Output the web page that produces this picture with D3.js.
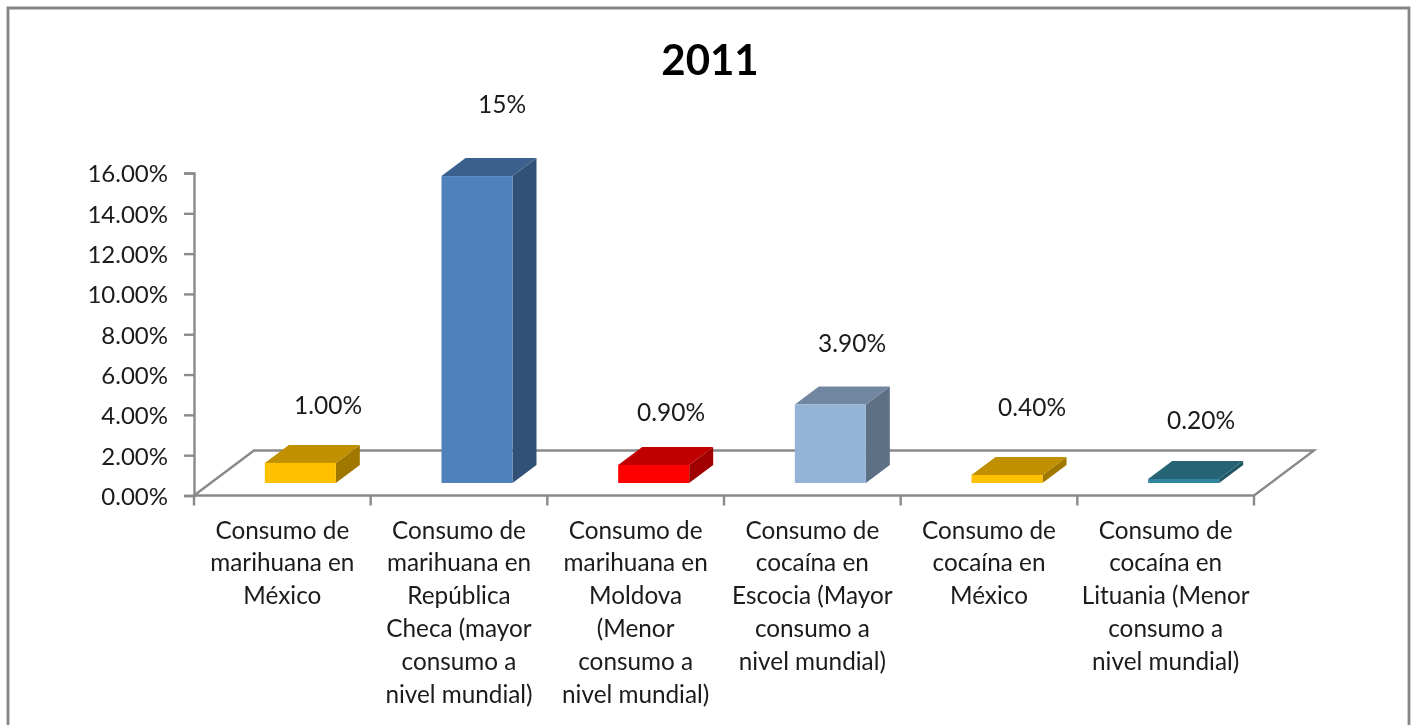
<!DOCTYPE html>
<html><head><meta charset="utf-8">
<script src="https://cdn.jsdelivr.net/npm/d3@7"></script>
<style>html,body{margin:0;padding:0;background:#fff}svg{display:block}text{font-family:Lato,"Open Sans",sans-serif}</style>
</head><body><div id="c"></div>
<script>
const chartTitle = "2011";
const categories = [
  ["Consumo de","marihuana en","México"],
  ["Consumo de","marihuana en","República","Checa (mayor","consumo a","nivel mundial)"],
  ["Consumo de","marihuana en","Moldova","(Menor","consumo a","nivel mundial)"],
  ["Consumo de","cocaína en","Escocia (Mayor","consumo a","nivel mundial)"],
  ["Consumo de","cocaína en","México"],
  ["Consumo de","cocaína en","Lituania (Menor","consumo a","nivel mundial)"]
];
const values = [1.0, 15.25, 0.9, 3.9, 0.4, 0.2];
const valueLabels = ["1.00%","15%","0.90%","3.90%","0.40%","0.20%"];
const frontColors = ["#ffc000","#4f81bd","#ff0000","#95b3d7","#ffc000","#31859c"];
const topColors = ["#c09000","#3b618e","#c00000","#7086a1","#c09000","#256475"];
const sideColors = ["#a07800","#305176","#a00000","#5d7086","#a07800","#1f5462"];
const yTicks = [0,2,4,6,8,10,12,14,16];

const W=1416,H=725;
const svg=d3.select("#c").append("svg").attr("width",W).attr("height",H);
const blur=svg.append("defs").append("filter").attr("id","soft")
  .attr("filterUnits","userSpaceOnUse").attr("x",0).attr("y",0).attr("width",W).attr("height",H);
blur.append("feGaussianBlur").attr("stdDeviation",0.55);
const root=svg.append("g").attr("filter","url(#soft)");

// outer frame, open at the bottom
root.append("path").attr("d",`M8,${H+5}V8H1409V${H+5}`).attr("fill","none").attr("stroke","#858585").attr("stroke-width",2.8);

const x0=194,x1=1254,y0=495.5,y16=173;
const depthX=60,depthY=-45;
const x=d3.scaleBand().domain(d3.range(categories.length)).range([x0,x1]);
const y=d3.scaleLinear().domain([0,16]).range([y0,y16]);
const barW=71, barDX=24, barDY=-18, frontOffset=18;
const base=483;
const hScale=d3.scaleLinear().domain([0,16]).range([0,322]);

const axisColor="#8a8a8a";
// floor
root.append("path").attr("d",`M${x0},${y0}L${x0+depthX},${y0+depthY}H${x1+depthX}L${x1},${y0}`)
  .attr("fill","none").attr("stroke",axisColor).attr("stroke-width",2.4);

// y axis
const yAxis=d3.axisLeft(y).tickValues(yTicks).tickSize(10).tickPadding(16).tickFormat(d=>d.toFixed(2)+"%");
const gy=root.append("g").attr("transform",`translate(${x0},0)`).call(yAxis);
gy.selectAll("line,path").attr("stroke",axisColor).attr("stroke-width",2.4);
gy.selectAll("text").attr("font-size",24).attr("fill","#1a1a1a").attr("dy","0.37em");

// x axis
const gx=root.append("g").attr("transform",`translate(0,${y0})`);
gx.append("line").attr("x1",x0-1).attr("x2",x1+1).attr("stroke",axisColor).attr("stroke-width",2.4);
gx.selectAll("line.t").data(d3.range(categories.length+1)).join("line").attr("class","t")
  .attr("x1",i=>x0+i*x.step()).attr("x2",i=>x0+i*x.step()).attr("y2",10)
  .attr("stroke",axisColor).attr("stroke-width",2.4);

// bars
const bars=root.append("g").selectAll("g").data(values).join("g")
  .attr("transform",(d,i)=>`translate(${x(i)+x.bandwidth()/2+frontOffset-barW/2},${base})`);
bars.append("path").attr("fill",(d,i)=>sideColors[i])
  .attr("d",d=>{const h=hScale(d);return `M${barW},0V${-h}l${barDX},${barDY}V${barDY}Z`;});
bars.append("path").attr("fill",(d,i)=>topColors[i])
  .attr("d",d=>{const h=hScale(d);return `M0,${-h}l${barDX},${barDY}H${barW+barDX}l${-barDX},${-barDY}Z`;});
bars.append("rect").attr("width",barW).attr("y",d=>-hScale(d)).attr("height",d=>hScale(d))
  .attr("fill",(d,i)=>frontColors[i]);

// value labels
const labelX=[328,502,671,852,1032,1201];
const labelY=[414,113,421,352,416,429];
root.append("g").selectAll("text").data(valueLabels).join("text")
  .attr("x",(d,i)=>labelX[i]).attr("y",(d,i)=>labelY[i]).attr("text-anchor","middle")
  .attr("font-size",24.5).attr("fill","#1a1a1a").text(d=>d);

// category labels
const cat=root.append("g").selectAll("text").data(categories).join("text")
  .attr("text-anchor","middle").attr("font-size",24.3).attr("fill","#1a1a1a");
cat.selectAll("tspan").data((d,i)=>d.map(s=>({s,i}))).join("tspan")
  .attr("x",d=>x(d.i)+x.bandwidth()/2).attr("y",(d,j)=>538.5+j*32.8).text(d=>d.s);

// title
root.append("text").attr("x",710).attr("y",75).attr("text-anchor","middle")
  .attr("font-size",42).attr("font-weight",700).attr("fill","#000").text(chartTitle);
</script></body></html>
